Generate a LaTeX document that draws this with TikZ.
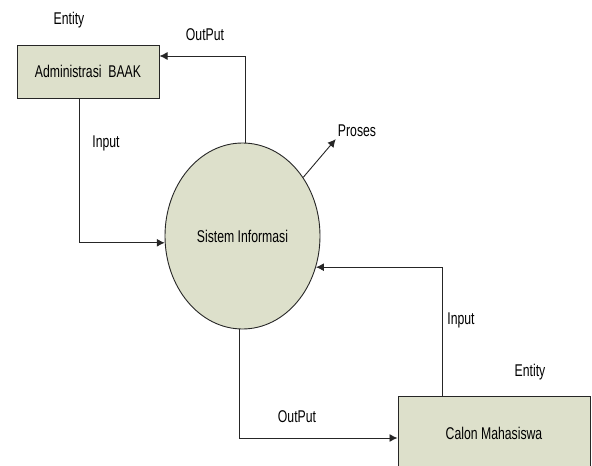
\documentclass[tikz,border=0pt]{standalone}
\usepackage{fontspec}
\setmainfont{Liberation Sans}[FakeStretch=0.72]
\usepackage{tikz}
\usetikzlibrary{shapes.geometric,arrows.meta}

\definecolor{boxfill}{RGB}{221,224,203}

\begin{document}
\begin{tikzpicture}[x=1pt,y=-1pt,font=\fontsize{17}{20}\selectfont]
\tikzset{E/.style={rectangle,draw=black!85,fill=boxfill,line width=1pt,inner sep=0pt}}
\tikzset{S/.style={ellipse,draw=black!85,fill=boxfill,line width=0.9pt,inner sep=0pt,minimum width=155pt,minimum height=186pt}}
\tikzset{L/.style={draw=none,fill=none,inner sep=2pt}}
\tikzset{F/.style={draw=black!85,line width=0.9pt,-{Latex[length=8pt,width=8pt]}}}

  \useasboundingbox (0,0) rectangle (592,466);
  \clip (0,0) rectangle (592,466);

  \node[E,minimum width=142pt,minimum height=53pt] (baak) at (88,71.5) {Administrasi\ \ BAAK};
  \node[S] (sis) at (242.5,236) {Sistem Informasi};
  \node[E,minimum width=192pt,minimum height=74pt] (cm) at (494,433) {Calon Mahasiswa};

  \node[L] (ent1) at (69,20)  {Entity};
  \node[L] (ent2) at (530,372) {Entity};
  \node[L] (out1) at (205,35) {OutPut};
  \node[L] (out2) at (297,417) {OutPut};
  \node[L] (in1) at (106,143) {Input};
  \node[L] (in2) at (461,320) {Input};
  \node[L] (proses) at (357,131) {Proses};

  \draw[F] ([xshift=2.5pt]sis.north) |- ([yshift=15.5pt]baak.east);
  \draw[F] ([xshift=-9pt]baak.south) |- (sis.185);
  \draw[F] (sis.44) -- (proses.south west);
  \draw[F] ([xshift=-52pt]cm.north) |- (sis.-23);
  \draw[F] ([xshift=-3.5pt]sis.south) |- ([yshift=-5pt]cm.west);
\end{tikzpicture}
\end{document}
